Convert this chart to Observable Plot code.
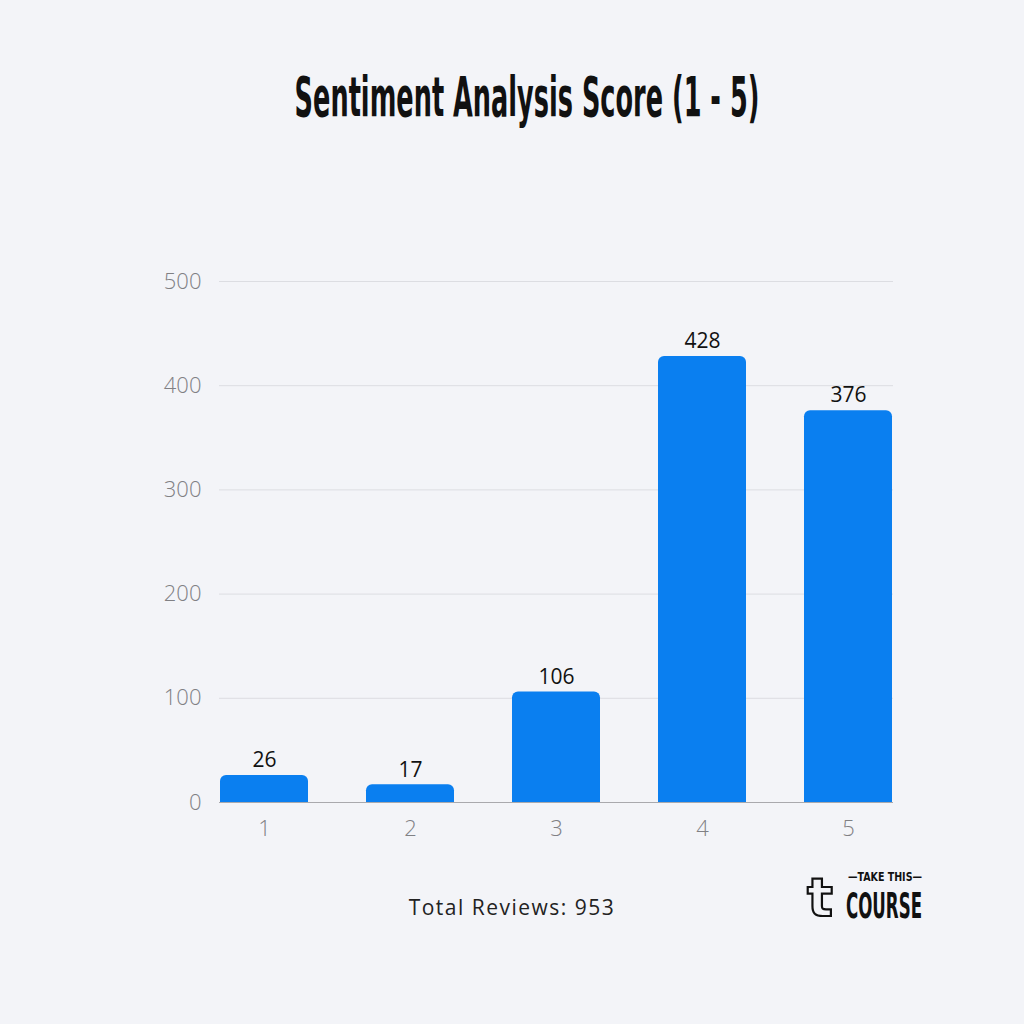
<!DOCTYPE html>
<html>
<head>
<meta charset="utf-8">
<script src="https://cdn.jsdelivr.net/npm/d3@7"></script>
<script src="https://cdn.jsdelivr.net/npm/@observablehq/plot@0.6"></script>
<style>
  html, body { margin: 0; padding: 0; background: #f3f4f8; }
  #page { position: relative; width: 1024px; height: 1024px; background: #f3f4f8; overflow: hidden; }
  #title { position: absolute; top: 0; left: 0; }
  #chart { position: absolute; top: 240px; left: 0; }
  #caption { position: absolute; top: 893px; left: 0; width: 1024px; text-align: center;
    font-family: "Open Sans", sans-serif; font-size: 21px; color: #222; letter-spacing: 1.5px; }
  #logo { position: absolute; left: 780px; top: 858px; }
</style>
</head>
<body>
<div id="page">
  <svg id="title" width="1024" height="150">
    <g class="fit" data-cx="527" data-y="116" data-w="465">
      <text text-anchor="middle" font-family="DejaVu Sans Condensed, DejaVu Sans, sans-serif" font-weight="bold" font-size="55" fill="#111">Sentiment Analysis Score (1 - 5)</text>
    </g>
  </svg>
  <div id="chart"></div>
  <div id="caption">Total Reviews: 953</div>
  <svg id="logo" width="200" height="70">
    <g class="fit" data-cx="40" data-y="58" data-w="26">
      <text text-anchor="middle" font-family="DejaVu Sans, sans-serif" font-weight="bold" font-size="54" fill="none" stroke="#111" stroke-width="2.2">t</text>
    </g>
    <g class="fit" data-cx="105" data-y="23" data-w="74">
      <text text-anchor="middle" font-family="DejaVu Sans Condensed, sans-serif" font-weight="bold" font-size="12" fill="#111">—TAKE THIS—</text>
    </g>
    <g class="fit" data-cx="104" data-y="60" data-w="76">
      <text text-anchor="middle" font-family="DejaVu Sans Condensed, sans-serif" font-weight="bold" font-size="36" fill="#111">COURSE</text>
    </g>
  </svg>
</div>
<script>
const scores = ["1", "2", "3", "4", "5"];
const counts = [26, 17, 106, 428, 376];
const yTicks = [0, 100, 200, 300, 400, 500];

const data = scores.map((s, i) => ({score: s, count: counts[i]}));

const chart = Plot.plot({
  width: 1024,
  height: 622,
  marginLeft: 219,
  marginRight: 131,
  marginTop: 41,
  marginBottom: 60,
  style: {background: "transparent", fontFamily: "'Open Sans', sans-serif"},
  x: {domain: scores, paddingInner: 0.4, paddingOuter: 0, label: null, tickSize: 0, tickPadding: 18},
  y: {domain: [0, 500], ticks: yTicks, label: null, tickSize: 0, tickPadding: 18},
  marks: [
    Plot.gridY(yTicks.filter(d => d > 0), {stroke: "#dcdde2", strokeOpacity: 1, strokeWidth: 1}),
    Plot.barY(data, {x: "score", y: "count", fill: "#0a7ff0", rx: 6, insetBottom: -10, clip: true}),
    Plot.ruleY([0], {stroke: "#a9a9ad", strokeWidth: 1.2}),
    Plot.text(data, {x: "score", y: "count", text: d => String(d.count), dy: -15, fontSize: 21, fill: "#111", letterSpacing: 0.5}),
    Plot.axisY({ticks: yTicks, tickSize: 0, tickPadding: 18, fontSize: 22, fill: "#808084", fontWeight: 300, label: null}),
    Plot.axisX({tickSize: 0, tickPadding: 18, fontSize: 22, fill: "#808084", fontWeight: 300, label: null})
  ]
});
document.getElementById("chart").appendChild(chart);

document.querySelectorAll("g.fit").forEach(g => {
  const t = g.querySelector("text");
  const w = t.getComputedTextLength();
  const sx = w > 0 ? (+g.dataset.w) / w : 1;
  g.setAttribute("transform", `translate(${g.dataset.cx},${g.dataset.y}) scale(${sx},1)`);
});
</script>
</body>
</html>
